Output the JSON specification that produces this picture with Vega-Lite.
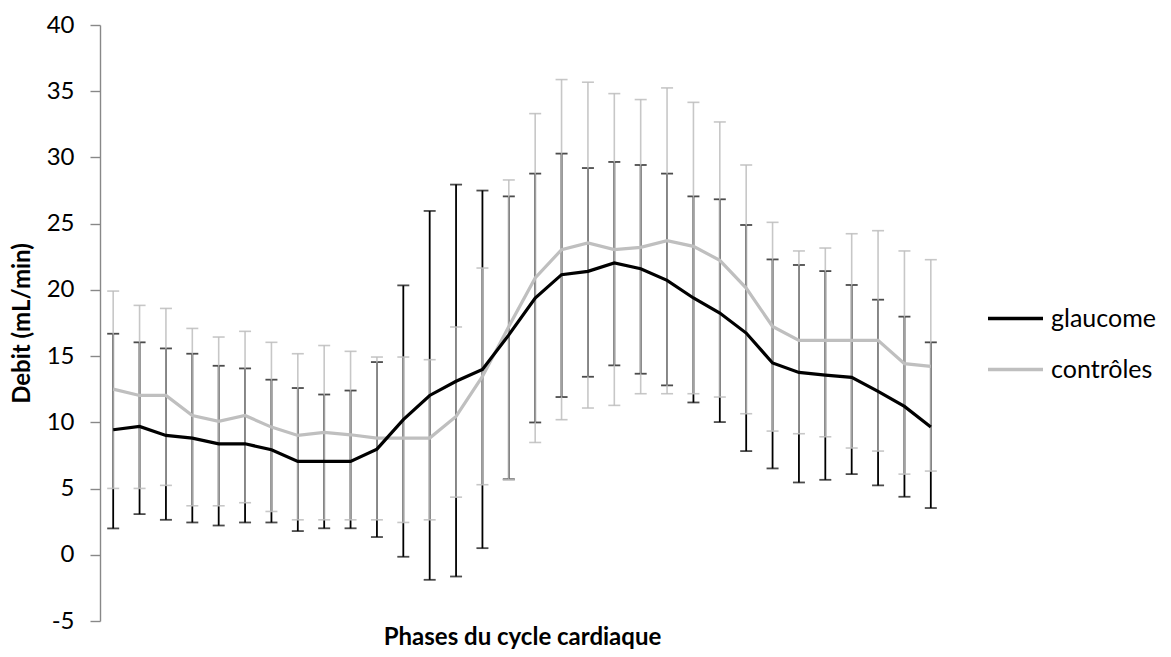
{
  "$schema": "https://vega.github.io/schema/vega-lite/v6.json",
  "width": 844,
  "height": 596,
  "autosize": {"type": "none"},
  "padding": {"left": 100, "top": 25, "right": 227, "bottom": 36},
  "background": "white",
  "config": {"view": {"stroke": null}, "font": "Lato"},
  "data": {"values": [
    {"phase": 1, "groupe": "glaucome", "mean": 9.44, "low": 1.99, "high": 16.69},
    {"phase": 2, "groupe": "glaucome", "mean": 9.69, "low": 3.07, "high": 16.04},
    {"phase": 3, "groupe": "glaucome", "mean": 9.01, "low": 2.64, "high": 15.58},
    {"phase": 4, "groupe": "glaucome", "mean": 8.81, "low": 2.44, "high": 15.18},
    {"phase": 5, "groupe": "glaucome", "mean": 8.38, "low": 2.21, "high": 14.27},
    {"phase": 6, "groupe": "glaucome", "mean": 8.38, "low": 2.44, "high": 14.07},
    {"phase": 7, "groupe": "glaucome", "mean": 7.93, "low": 2.44, "high": 13.22},
    {"phase": 8, "groupe": "glaucome", "mean": 7.05, "low": 1.79, "high": 12.59},
    {"phase": 9, "groupe": "glaucome", "mean": 7.05, "low": 2.0, "high": 12.1},
    {"phase": 10, "groupe": "glaucome", "mean": 7.05, "low": 2.0, "high": 12.4},
    {"phase": 11, "groupe": "glaucome", "mean": 7.98, "low": 1.34, "high": 14.55},
    {"phase": 12, "groupe": "glaucome", "mean": 10.2, "low": -0.15, "high": 20.34},
    {"phase": 13, "groupe": "glaucome", "mean": 12.03, "low": -1.89, "high": 25.96},
    {"phase": 14, "groupe": "glaucome", "mean": 13.1, "low": -1.64, "high": 27.95},
    {"phase": 15, "groupe": "glaucome", "mean": 14.0, "low": 0.5, "high": 27.5},
    {"phase": 16, "groupe": "glaucome", "mean": 16.6, "low": 5.7, "high": 27.06},
    {"phase": 17, "groupe": "glaucome", "mean": 19.39, "low": 9.99, "high": 28.78},
    {"phase": 18, "groupe": "glaucome", "mean": 21.15, "low": 11.91, "high": 30.29},
    {"phase": 19, "groupe": "glaucome", "mean": 21.4, "low": 13.44, "high": 29.2},
    {"phase": 20, "groupe": "glaucome", "mean": 22.03, "low": 14.3, "high": 29.66},
    {"phase": 21, "groupe": "glaucome", "mean": 21.6, "low": 13.67, "high": 29.43},
    {"phase": 22, "groupe": "glaucome", "mean": 20.72, "low": 12.79, "high": 28.78},
    {"phase": 23, "groupe": "glaucome", "mean": 19.39, "low": 11.5, "high": 27.06},
    {"phase": 24, "groupe": "glaucome", "mean": 18.25, "low": 10.02, "high": 26.84},
    {"phase": 25, "groupe": "glaucome", "mean": 16.74, "low": 7.83, "high": 24.9},
    {"phase": 26, "groupe": "glaucome", "mean": 14.48, "low": 6.52, "high": 22.3},
    {"phase": 27, "groupe": "glaucome", "mean": 13.77, "low": 5.46, "high": 21.88},
    {"phase": 28, "groupe": "glaucome", "mean": 13.57, "low": 5.66, "high": 21.42},
    {"phase": 29, "groupe": "glaucome", "mean": 13.39, "low": 6.09, "high": 20.37},
    {"phase": 30, "groupe": "glaucome", "mean": 12.34, "low": 5.24, "high": 19.26},
    {"phase": 31, "groupe": "glaucome", "mean": 11.2, "low": 4.38, "high": 17.98},
    {"phase": 32, "groupe": "glaucome", "mean": 9.64, "low": 3.53, "high": 16.04},
    {"phase": 1, "groupe": "contrôles", "mean": 12.51, "low": 5.01, "high": 19.91},
    {"phase": 2, "groupe": "contrôles", "mean": 12.03, "low": 5.01, "high": 18.83},
    {"phase": 3, "groupe": "contrôles", "mean": 12.03, "low": 5.24, "high": 18.6},
    {"phase": 4, "groupe": "contrôles", "mean": 10.52, "low": 3.7, "high": 17.09},
    {"phase": 5, "groupe": "contrôles", "mean": 10.07, "low": 3.7, "high": 16.44},
    {"phase": 6, "groupe": "contrôles", "mean": 10.52, "low": 3.93, "high": 16.87},
    {"phase": 7, "groupe": "contrôles", "mean": 9.64, "low": 3.27, "high": 16.04},
    {"phase": 8, "groupe": "contrôles", "mean": 9.01, "low": 2.64, "high": 15.18},
    {"phase": 9, "groupe": "contrôles", "mean": 9.24, "low": 2.64, "high": 15.8},
    {"phase": 10, "groupe": "contrôles", "mean": 9.06, "low": 2.64, "high": 15.36},
    {"phase": 11, "groupe": "contrôles", "mean": 8.81, "low": 2.64, "high": 14.93},
    {"phase": 12, "groupe": "contrôles", "mean": 8.81, "low": 2.44, "high": 14.93},
    {"phase": 13, "groupe": "contrôles", "mean": 8.81, "low": 2.64, "high": 14.73},
    {"phase": 14, "groupe": "contrôles", "mean": 10.45, "low": 4.35, "high": 17.2},
    {"phase": 15, "groupe": "contrôles", "mean": 13.47, "low": 5.29, "high": 21.65},
    {"phase": 16, "groupe": "contrôles", "mean": 17.24, "low": 5.66, "high": 28.3},
    {"phase": 17, "groupe": "contrôles", "mean": 20.9, "low": 8.48, "high": 33.31},
    {"phase": 18, "groupe": "contrôles", "mean": 23.04, "low": 10.2, "high": 35.88},
    {"phase": 19, "groupe": "contrôles", "mean": 23.54, "low": 11.08, "high": 35.68},
    {"phase": 20, "groupe": "contrôles", "mean": 23.04, "low": 11.28, "high": 34.82},
    {"phase": 21, "groupe": "contrôles", "mean": 23.21, "low": 12.16, "high": 34.37},
    {"phase": 22, "groupe": "contrôles", "mean": 23.72, "low": 12.16, "high": 35.25},
    {"phase": 23, "groupe": "contrôles", "mean": 23.29, "low": 12.16, "high": 34.16},
    {"phase": 24, "groupe": "contrôles", "mean": 22.23, "low": 11.91, "high": 32.68},
    {"phase": 25, "groupe": "contrôles", "mean": 20.14, "low": 10.65, "high": 29.43},
    {"phase": 26, "groupe": "contrôles", "mean": 17.24, "low": 9.34, "high": 25.1},
    {"phase": 27, "groupe": "contrôles", "mean": 16.19, "low": 9.14, "high": 22.94},
    {"phase": 28, "groupe": "contrôles", "mean": 16.19, "low": 8.91, "high": 23.16},
    {"phase": 29, "groupe": "contrôles", "mean": 16.19, "low": 8.06, "high": 24.24},
    {"phase": 30, "groupe": "contrôles", "mean": 16.19, "low": 7.83, "high": 24.47},
    {"phase": 31, "groupe": "contrôles", "mean": 14.43, "low": 6.09, "high": 22.94},
    {"phase": 32, "groupe": "contrôles", "mean": 14.22, "low": 6.32, "high": 22.28}
  ]},
  "encoding": {
    "x": {
      "field": "phase", "type": "quantitative",
      "scale": {"domain": [0.5, 32.5], "nice": false, "zero": false},
      "axis": {"title": "Phases du cycle cardiaque", "labels": false, "ticks": false, "domain": false, "grid": false,
               "titleFont": "Lato", "titleFontSize": 24, "titleFontWeight": "bold", "titleColor": "#000000", "titlePadding": 4}
    },
    "y": {"type": "quantitative",
          "scale": {"domain": [-5, 40], "nice": false, "zero": false},
          "axis": {"title": "Debit (mL/min)", "values": [-5, 0, 5, 10, 15, 20, 25, 30, 35, 40], "grid": false,
                   "labelExpr": "datum.value < 0 ? '-' + abs(datum.value) : '' + datum.value",
                   "domainColor": "#888888", "domainWidth": 1.4, "tickColor": "#888888", "tickSize": 10, "tickWidth": 1.4,
                   "labelFont": "Lato", "labelFontSize": 24, "labelColor": "#000000", "labelPadding": 16,
                   "titleFont": "Lato", "titleFontSize": 24, "titleFontWeight": "bold", "titleColor": "#000000", "titlePadding": 12}}
  },
  "layer": [
    {
      "transform": [{"filter": "datum.groupe === 'glaucome'"}],
      "mark": {"type": "errorbar", "ticks": true, "size": 12, "thickness": 1.8, "color": "#000000"},
      "encoding": {
        "y": {"field": "low", "type": "quantitative", "title": "Debit (mL/min)"},
        "y2": {"field": "high"}
      }
    },
    {
      "transform": [{"filter": "datum.groupe === 'contrôles'"}],
      "mark": {"type": "errorbar", "ticks": true, "size": 12, "thickness": 1.6, "color": "#bdbdbd", "opacity": 0.85},
      "encoding": {
        "y": {"field": "low", "type": "quantitative", "title": "Debit (mL/min)"},
        "y2": {"field": "high"}
      }
    },
    {
      "transform": [{"filter": "datum.groupe === 'contrôles'"}],
      "mark": {"type": "line", "strokeWidth": 3.2},
      "encoding": {
        "y": {"field": "mean", "type": "quantitative", "title": "Debit (mL/min)"},
        "color": {"field": "groupe", "type": "nominal",
                  "scale": {"domain": ["glaucome", "contrôles"], "range": ["#000000", "#bfbfbf"]},
                  "legend": {"title": null, "orient": "none", "legendX": 886, "legendY": 264,
                             "symbolType": "stroke", "symbolSize": 3025, "symbolStrokeWidth": 3.4,
                             "labelFont": "Lato", "labelFontSize": 25, "labelColor": "#000000", "labelOffset": 6, "rowPadding": 8}}
      }
    },
    {
      "transform": [{"filter": "datum.groupe === 'glaucome'"}],
      "mark": {"type": "line", "strokeWidth": 3.2},
      "encoding": {
        "y": {"field": "mean", "type": "quantitative", "title": "Debit (mL/min)"},
        "color": {"field": "groupe", "type": "nominal"}
      }
    }
  ]
}
